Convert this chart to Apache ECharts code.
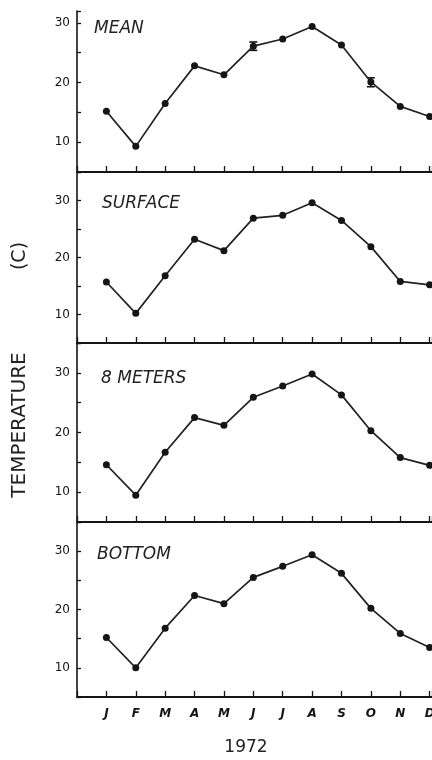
<!DOCTYPE html>
<html>
<head>
<meta charset="utf-8">
<script src="https://cdn.jsdelivr.net/npm/echarts@6/dist/echarts.min.js"></script>
<style>
  html, body { margin: 0; padding: 0; background: #fff; }
  #main { width: 432px; height: 760px; }
</style>
</head>
<body>
<div id="main"></div>
<script>
var months = ['J', 'F', 'M', 'A', 'M', 'J', 'J', 'A', 'S', 'O', 'N', 'D'];
var panelNames = ['MEAN', 'SURFACE', '8 METERS', 'BOTTOM'];
var meanTemp = [15.2, 9.3, 16.5, 22.8, 21.3, 26.1, 27.3, 29.4, 26.3, 20.1, 16.0, 14.3];
var surfaceTemp = [15.7, 10.2, 16.8, 23.2, 21.2, 26.9, 27.4, 29.6, 26.5, 21.9, 15.8, 15.2];
var eightMeterTemp = [14.6, 9.5, 16.7, 22.5, 21.2, 25.9, 27.8, 29.8, 26.3, 20.3, 15.8, 14.5];
var bottomTemp = [15.2, 10.0, 16.8, 22.4, 21.0, 25.5, 27.4, 29.4, 26.2, 20.2, 15.9, 13.5];
// error bars drawn on the mean panel (month number, low, high)
var errMonths = [6, 10];
var errLow = [25.4, 19.3];
var errHigh = [26.8, 20.8];

var panels = [meanTemp, surfaceTemp, eightMeterTemp, bottomTemp];
var grids = [
    {left: 77, right: 0, top: 11, height: 161, outerBoundsMode: 'none'},
    {left: 77, right: 0, top: 172, height: 171, outerBoundsMode: 'none'},
    {left: 77, right: 0, top: 343, height: 179, outerBoundsMode: 'none'},
    {left: 77, right: 0, top: 522, height: 175, outerBoundsMode: 'none'}
];
var yMax = [32, 35, 35, 35];
var ink = '#151515';
var font = '"DejaVu Sans", sans-serif';

var chart = echarts.init(document.getElementById('main'));

var xAxes = [], yAxes = [], series = [], titles = [];
panels.forEach(function (vals, i) {
    xAxes.push({
        type: 'value', gridIndex: i, min: 0, max: 12.08, interval: 1,
        axisLine: {lineStyle: {color: ink, width: 2}},
        axisTick: {inside: true, length: 6, lineStyle: {color: ink, width: 1.3}},
        splitLine: {show: false},
        axisLabel: {
            show: i === 3, margin: 11, color: ink, fontSize: 12, fontWeight: 'bold',
            fontStyle: 'italic', fontFamily: font, hideOverlap: false,
            formatter: function (v) {
                return (v >= 1 && v <= 12 && v === Math.round(v)) ? months[v - 1] : '';
            }
        }
    });
    yAxes.push({
        type: 'value', gridIndex: i, min: 5, max: yMax[i], interval: 5,
        axisLine: {show: true, lineStyle: {color: ink, width: 1.6}},
        axisTick: {show: true, inside: true, length: 4, lineStyle: {color: ink, width: 1.3}},
        splitLine: {show: false},
        axisLabel: {
            margin: 7, color: ink, fontSize: 12, fontFamily: font,
            formatter: function (v) {
                return (v === 10 || v === 20 || v === 30) ? String(v) : '';
            }
        }
    });
    series.push({
        type: 'line', xAxisIndex: i, yAxisIndex: i,
        data: vals.map(function (v, k) { return [k + 1, v]; }),
        symbol: 'circle', symbolSize: 7,
        itemStyle: {color: ink},
        lineStyle: {color: '#222', width: 1.7},
        silent: true, animation: false
    });
    titles.push({
        text: panelNames[i],
        left: [89, 97, 96, 92][i],
        top: [15, 190, 365, 541][i],
        textStyle: {fontSize: 17, fontWeight: 'normal', fontStyle: 'italic', color: '#222', fontFamily: font}
    });
});

series.push({
    type: 'custom', xAxisIndex: 0, yAxisIndex: 0, silent: true, animation: false,
    data: errMonths.map(function (m, k) { return [m, errLow[k], errHigh[k]]; }),
    renderItem: function (params, api) {
        var lo = api.coord([api.value(0), api.value(1)]);
        var hi = api.coord([api.value(0), api.value(2)]);
        var w = 4;
        var st = {stroke: ink, lineWidth: 1.6};
        return {
            type: 'group',
            children: [
                {type: 'line', shape: {x1: lo[0], y1: lo[1], x2: hi[0], y2: hi[1]}, style: st},
                {type: 'line', shape: {x1: lo[0] - w, y1: lo[1], x2: lo[0] + w, y2: lo[1]}, style: st},
                {type: 'line', shape: {x1: hi[0] - w, y1: hi[1], x2: hi[0] + w, y2: hi[1]}, style: st}
            ]
        };
    }
});

var option = {
    backgroundColor: '#fff',
    animation: false,
    title: titles,
    grid: grids,
    xAxis: xAxes,
    yAxis: yAxes,
    series: series,
    graphic: [
        {
            type: 'text', x: 20, y: 425, rotation: Math.PI / 2,
            style: {text: 'TEMPERATURE', font: '20px "DejaVu Sans", sans-serif', fill: '#222',
                    textAlign: 'center', textVerticalAlign: 'middle'}
        },
        {
            type: 'text', x: 20, y: 256, rotation: Math.PI / 2,
            style: {text: '(C)', font: '19px "DejaVu Sans", sans-serif', fill: '#222',
                    textAlign: 'center', textVerticalAlign: 'middle'}
        },
        {
            type: 'text', x: 246, y: 748,
            style: {text: '1972', font: '17px "DejaVu Sans", sans-serif', fill: '#222',
                    textAlign: 'center', textVerticalAlign: 'middle'}
        }
    ]
};
chart.setOption(option);
</script>
</body>
</html>
